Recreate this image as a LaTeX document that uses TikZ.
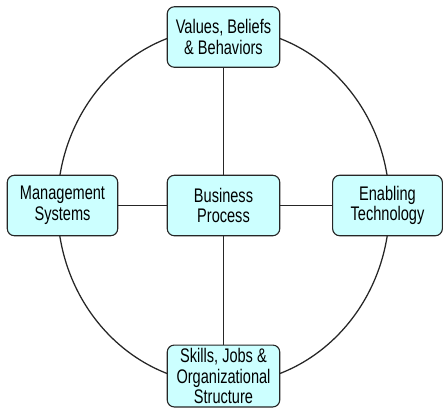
\documentclass[tikz,border=0pt]{standalone}
\usepackage{fontspec}
\setmainfont{Liberation Sans}[FakeStretch=0.74]
\definecolor{boxcyan}{RGB}{204,255,255}

\begin{document}
\begin{tikzpicture}[x=0.025cm,y=-0.025cm,
   block/.style={draw=black!85,fill=boxcyan,rounded corners=5pt,line width=0.8pt,
      minimum width=80pt,minimum height=43pt,inner sep=0pt,align=center,
      font=\fontsize{14}{14.6}\selectfont},
   link/.style={line width=0.9pt,draw=black!85}]
   \useasboundingbox (0,0) rectangle (443,408);
   % the ring behind the boxes
   \draw[link] (223.5,206) ellipse [x radius=4.15cm,y radius=4.45cm];

   \node[block] (process) at (223.5,205.5) {Business\\Process};
   \node[block] (values) at (223.5,37) {Values, Beliefs\\\& Behaviors};
   \node[block,minimum width=78.5pt] (mgmt) at (62.5,205.5) {Management\\Systems};
   \node[block,minimum width=78pt] (tech) at (387.5,205.5) {Enabling\\Technology};
   \node[block,minimum height=44pt] (skills) at (223.5,376) {Skills, Jobs \&\\Organizational\\Structure};

   \draw[link] (process) -- (values);
   \draw[link] (process) -- (skills);
   \draw[link] (process) -- (mgmt);
   \draw[link] (process) -- (tech);
\end{tikzpicture}
\end{document}
